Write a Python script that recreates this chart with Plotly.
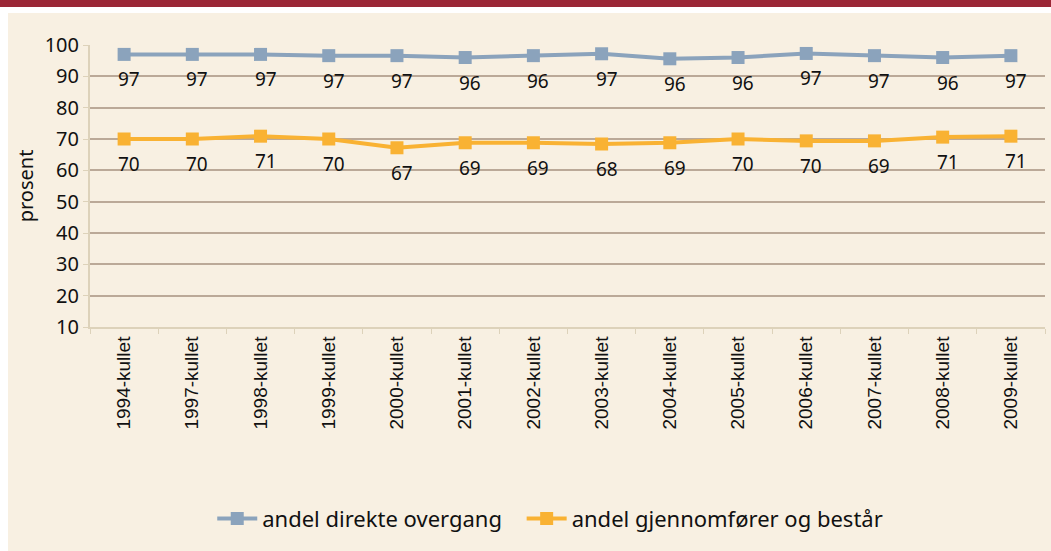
import plotly.graph_objects as go

# cohort categories
kull = ["1994-kullet", "1997-kullet", "1998-kullet", "1999-kullet", "2000-kullet",
        "2001-kullet", "2002-kullet", "2003-kullet", "2004-kullet", "2005-kullet",
        "2006-kullet", "2007-kullet", "2008-kullet", "2009-kullet"]

direkte = [97.0, 97.0, 97.0, 96.6, 96.6, 96.0, 96.6, 97.2, 95.6, 96.0, 97.3, 96.6, 96.0, 96.6]
direkte_lbl = ["97", "97", "97", "97", "97", "96", "96", "97", "96", "96", "97", "97", "96", "97"]

bestar = [70.0, 70.0, 70.9, 70.0, 67.2, 68.8, 68.8, 68.4, 68.8, 70.0, 69.4, 69.4, 70.6, 70.9]
bestar_lbl = ["70", "70", "71", "70", "67", "69", "69", "68", "69", "70", "70", "69", "71", "71"]

BLUE = "#8BA3BC"
ORANGE = "#F9B233"
BEIGE = "#F8F0E2"
GRID = "#BBA998"
AXIS = "#DDD2BA"
FONT = "Noto Sans, Open Sans, sans-serif"

fig = go.Figure()

# each series gets its own legend box so the gap between them can be set
for name, ys, color, leg in [("andel direkte overgang", direkte, BLUE, "legend"),
                             ("andel gjennomfører og består", bestar, ORANGE, "legend2")]:
    fig.add_trace(go.Scatter(
        x=kull, y=ys, name=name, mode="lines+markers", legend=leg,
        line=dict(color=color, width=4),
        marker=dict(symbol="square", size=13, color=color),
    ))

# data labels a bit below each marker
for ys, labels in [(direkte, direkte_lbl), (bestar, bestar_lbl)]:
    for x, y, t in zip(kull, ys, labels):
        fig.add_annotation(x=x, y=y, text=t, showarrow=False,
                           xshift=5, yshift=-25,
                           font=dict(family=FONT, size=19, color="#111111"))

# beige panel and dark red band on top
fig.add_shape(type="rect", xref="paper", yref="paper", layer="below",
              x0=-82 / 955, x1=1.0 + 8 / 955, y0=-230 / 282, y1=(282 + 32) / 282,
              fillcolor=BEIGE, line_width=0)
fig.add_shape(type="rect", xref="paper", yref="paper", layer="below",
              x0=-92 / 955, x1=1.0 + 8 / 955, y0=(282 + 38) / 282, y1=(282 + 47) / 282,
              fillcolor="#9B2736", line_width=0)

legend_style = dict(orientation="h", y=-0.68, yanchor="middle", xanchor="left",
                    font=dict(size=22), bgcolor="rgba(0,0,0,0)", itemwidth=40)

fig.update_layout(
    width=1051, height=551,
    margin=dict(l=90, r=6, t=45, b=224),
    paper_bgcolor="white",
    plot_bgcolor=BEIGE,
    font=dict(family=FONT, size=16, color="#111111"),
    showlegend=True,
    legend=dict(x=0.128, **legend_style),
    legend2=dict(x=0.452, **legend_style),
    xaxis=dict(
        type="category", tickangle=-90, showgrid=False,
        showline=True, linecolor=AXIS, linewidth=2,
        ticks="outside", tickson="boundaries", ticklen=5, tickcolor=AXIS,
        tickfont=dict(family="Liberation Sans, Arial, sans-serif", size=19, color="#111111"),
        range=[-0.5, 13.5],
    ),
    yaxis=dict(
        range=[10, 100], dtick=10, tick0=10,
        showgrid=True, gridcolor=GRID, gridwidth=1.5,
        showline=True, linecolor=AXIS, linewidth=2,
        ticks="outside", ticklen=5, tickcolor=AXIS,
        zeroline=False,
        title=dict(text="prosent", font=dict(size=20), standoff=6),
        tickfont=dict(size=20),
    ),
)

fig.write_html("out.html", config={"displayModeBar": False},
               post_script="document.body.style.margin='0';")
